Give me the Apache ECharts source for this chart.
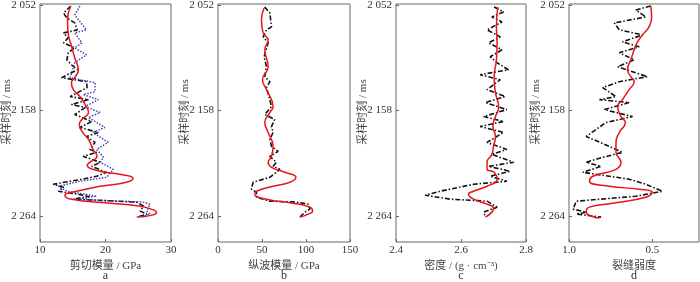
<!DOCTYPE html>
<html>
<head>
<meta charset="utf-8">
<script src="https://cdn.jsdelivr.net/npm/echarts@6/dist/echarts.min.js"></script>
<style>
  html, body { margin: 0; padding: 0; background: #fff; }
  #chart { width: 700px; height: 282px; }
</style>
</head>
<body>
<div id="chart"></div>
<script>
// y ticks (sampling time, ms)
const timeTicks = [2052, 2158, 2264];

// panel a - shear modulus (GPa)
const aBlackT = [2053, 2060, 2065, 2070, 2077, 2080, 2085, 2090, 2095, 2100, 2107, 2112, 2117, 2125, 2129, 2135, 2144, 2147, 2152, 2155, 2162, 2169, 2175, 2180, 2184, 2190, 2197, 2200, 2204, 2210, 2214, 2220, 2224, 2227, 2232, 2235, 2239, 2244, 2247, 2250, 2254, 2259, 2262, 2265];
const aBlackV = [14.7, 13.6, 14.1, 15.3, 15.7, 13.6, 14.3, 13.6, 15.3, 14.3, 14.1, 14.8, 15.7, 13.3, 17.1, 17.2, 14.6, 17.4, 14.8, 16.9, 15.3, 17.9, 16.1, 18.9, 17.1, 18.4, 17.6, 18.65, 16.6, 19.2, 17.9, 20.1, 18.65, 16.4, 12.0, 13.6, 12.8, 17.6, 15.1, 24.8, 25.8, 25.3, 26.3, 24.8];
const aBlueT = [2053, 2062, 2077, 2080, 2090, 2095, 2102, 2110, 2125, 2130, 2139, 2142, 2147, 2154, 2160, 2165, 2175, 2180, 2190, 2197, 2205, 2210, 2217, 2225, 2229, 2234, 2239, 2244, 2247, 2250, 2252, 2259, 2262, 2265];
const aBlueV = [16.1, 15.3, 17.1, 15.3, 16.4, 15.3, 17.1, 15.3, 14.6, 18.4, 18.4, 16.6, 18.9, 16.9, 19.2, 17.4, 19.9, 18.1, 20.4, 18.65, 19.7, 19.2, 21.2, 20.2, 16.1, 12.8, 14.1, 18.65, 15.7, 25.8, 26.8, 26.3, 26.8, 25.3];
const aRedT = [2053, 2067, 2080, 2093, 2105, 2117, 2125, 2130, 2137, 2144, 2152, 2160, 2167, 2172, 2179, 2187, 2197, 2204, 2210, 2213, 2219, 2222, 2226, 2230, 2234, 2239, 2243, 2247, 2251, 2254, 2258, 2260, 2263, 2265];
const aRedV = [14.7, 14.2, 14.3, 14.8, 15.3, 15.85, 15.3, 14.8, 15.1, 16.1, 16.9, 17.4, 16.4, 16.0, 16.4, 17.4, 18.1, 18.7, 17.6, 17.2, 19.2, 22.2, 24.2, 23.2, 19.2, 15.6, 13.8, 14.8, 20.7, 25.3, 27.4, 27.8, 27.1, 24.8];

// panel b - P-wave modulus (GPa)
const bBlackT = [2054, 2060, 2074, 2077, 2084, 2090, 2104, 2114, 2124, 2129, 2135, 2147, 2154, 2162, 2167, 2174, 2180, 2187, 2194, 2199, 2204, 2210, 2214, 2217, 2220, 2225, 2230, 2237, 2240, 2245, 2249, 2250, 2252, 2257, 2260, 2265];
const bBlackV = [53, 58.9, 60.8, 55.1, 51.3, 57, 52.4, 55.1, 53.2, 58.9, 55.1, 58.9, 60.8, 53.2, 64.4, 60.8, 62.6, 58.9, 60.8, 68.3, 58.9, 66.4, 62.6, 70.3, 66.4, 58.9, 39.9, 38, 43.7, 43.7, 58.9, 89.3, 102.5, 104.4, 98.7, 93];
const bRedT = [2055, 2067, 2080, 2087, 2097, 2114, 2127, 2137, 2154, 2160, 2170, 2180, 2194, 2204, 2210, 2215, 2220, 2225, 2230, 2234, 2239, 2242, 2247, 2251, 2255, 2259, 2262, 2265];
const bRedV = [52.4, 49.4, 51.3, 57, 53.2, 57, 50.6, 55.1, 62.6, 58.9, 53.2, 57, 62.6, 60.8, 57, 60.8, 76, 88.5, 81.7, 62.6, 43.7, 41.8, 55.1, 85.4, 104.4, 107.5, 102.5, 93];

// panel c - density (g/cm3)
const cBlackT = [2054, 2059, 2064, 2069, 2077, 2084, 2090, 2097, 2104, 2110, 2117, 2122, 2127, 2137, 2144, 2150, 2157, 2164, 2169, 2174, 2180, 2190, 2197, 2202, 2210, 2214, 2219, 2224, 2229, 2232, 2239, 2243, 2247, 2249, 2255, 2260, 2265];
const cBlackV = [2.702, 2.731, 2.695, 2.726, 2.680, 2.721, 2.685, 2.726, 2.690, 2.711, 2.746, 2.659, 2.721, 2.680, 2.736, 2.675, 2.741, 2.670, 2.731, 2.659, 2.731, 2.680, 2.741, 2.695, 2.762, 2.685, 2.751, 2.690, 2.741, 2.639, 2.536, 2.490, 2.567, 2.680, 2.711, 2.670, 2.675];
const cRedT = [2054, 2074, 2090, 2107, 2124, 2140, 2155, 2164, 2174, 2184, 2194, 2202, 2210, 2217, 2220, 2227, 2234, 2239, 2242, 2247, 2252, 2256, 2260, 2265];
const cRedV = [2.713, 2.709, 2.711, 2.709, 2.702, 2.706, 2.716, 2.706, 2.698, 2.706, 2.700, 2.695, 2.680, 2.680, 2.702, 2.711, 2.680, 2.639, 2.623, 2.639, 2.680, 2.700, 2.695, 2.675];

// panel d - fracture weakness
const dBlackT = [2053, 2057, 2064, 2070, 2077, 2082, 2089, 2094, 2100, 2107, 2114, 2124, 2129, 2135, 2144, 2147, 2150, 2157, 2164, 2170, 2184, 2194, 2200, 2205, 2210, 2214, 2220, 2227, 2232, 2239, 2244, 2249, 2257, 2260, 2262, 2265];
const dBlackV = [0.51, 0.599, 0.539, 0.728, 0.698, 0.559, 0.679, 0.579, 0.698, 0.609, 0.708, 0.530, 0.698, 0.798, 0.718, 0.817, 0.639, 0.788, 0.619, 0.778, 0.897, 0.758, 0.679, 0.798, 0.897, 0.808, 0.917, 0.639, 0.539, 0.440, 0.599, 0.956, 0.976, 0.897, 0.956, 0.807];
const dRedT = [2053, 2064, 2074, 2080, 2089, 2097, 2107, 2117, 2124, 2129, 2137, 2147, 2154, 2164, 2170, 2180, 2190, 2200, 2210, 2217, 2224, 2229, 2234, 2237, 2240, 2245, 2251, 2255, 2260, 2264, 2266];
const dRedV = [0.51, 0.504, 0.52, 0.549, 0.589, 0.609, 0.629, 0.649, 0.629, 0.609, 0.639, 0.679, 0.708, 0.688, 0.662, 0.698, 0.718, 0.718, 0.688, 0.718, 0.857, 0.877, 0.758, 0.579, 0.500, 0.539, 0.738, 0.877, 0.897, 0.867, 0.817];

const font = "'Liberation Serif', 'Noto Sans CJK SC', serif";
const axisColor = '#666';
const textColor = '#333';

const pairs = (vals, times) => vals.map((v, i) => [v, times[i]]);
const fmtTime = v => String(v).replace(/^(\d)(\d{3})$/, '$1 $2');

const panels = [
  { left: 40, width: 131, name: '剪切模量 / GPa', letter: 'a', min: 10, max: 30, interval: 10 },
  { left: 218, width: 132, name: '纵波模量 / GPa', letter: 'b', min: 0, max: 150, interval: 50 },
  { left: 396, width: 130, name: '密度 / (g · cm⁻³)', letter: 'c', min: 2.4, max: 2.8, interval: 0.2 },
  { left: 569, width: 130, name: '裂缝弱度', letter: 'd', min: 0.22, max: 1.0, inverse: true, custom: [1.0, 0.5] }
];

const grid = panels.map(p => ({
  left: p.left, top: 4, width: p.width, height: 238,
  outerBoundsMode: 'none', containLabel: false,
  show: true, borderColor: axisColor, borderWidth: 1, backgroundColor: 'transparent'
}));

const xAxis = panels.map((p, i) => {
  const ax = {
    type: 'value', gridIndex: i, min: p.min, max: p.max, inverse: !!p.inverse,
    splitLine: { show: false },
    axisLine: { show: false },
    axisTick: { show: true, inside: true, length: 3, lineStyle: { color: axisColor } },
    axisLabel: { color: textColor, fontFamily: font, fontSize: 11, margin: 3,
      formatter: v => p.custom ? v.toFixed(1) : String(+v.toFixed(2)) },
    name: p.name, nameLocation: 'middle', nameGap: 11,
    nameTextStyle: { color: '#444', fontFamily: font, fontSize: 11 }
  };
  if (p.custom) {
    ax.axisLabel.customValues = p.custom;
    ax.axisTick.customValues = p.custom;
  } else {
    ax.interval = p.interval;
  }
  return ax;
});

const yAxis = panels.map((p, i) => ({
  type: 'value', gridIndex: i, min: 2051, max: 2290, inverse: true,
  splitLine: { show: false },
  axisLine: { show: false },
  axisTick: { show: true, inside: true, length: 3, customValues: timeTicks, lineStyle: { color: axisColor } },
  axisLabel: { color: textColor, fontFamily: font, fontSize: 11, margin: 4,
    customValues: timeTicks, formatter: fmtTime }
}));

const black = (i, vals, times) => ({
  type: 'line', xAxisIndex: i, yAxisIndex: i, data: pairs(vals, times),
  showSymbol: false, lineStyle: { color: '#111', width: 1.6, type: [5, 2, 1.5, 2] }, z: 2
});
const red = (i, vals, times) => ({
  type: 'line', xAxisIndex: i, yAxisIndex: i, data: pairs(vals, times),
  showSymbol: false, smooth: 0.5, lineStyle: { color: '#e8141c', width: 1.5 }, z: 4
});

const series = [
  black(0, aBlackV, aBlackT),
  { type: 'line', xAxisIndex: 0, yAxisIndex: 0, data: pairs(aBlueV, aBlueT), showSymbol: false,
    lineStyle: { color: '#3c3cb4', width: 1.4, type: [1.5, 1.5] }, z: 3 },
  red(0, aRedV, aRedT),
  black(1, bBlackV, bBlackT),
  red(1, bRedV, bRedT),
  black(2, cBlackV, cBlackT),
  red(2, cRedV, cRedT),
  black(3, dBlackV, dBlackT),
  red(3, dRedV, dRedT)
];

const graphic = [];
panels.forEach(p => {
  graphic.push({
    type: 'text', x: p.left - 33, y: 112, rotation: Math.PI / 2,
    style: { text: '采样时刻 / ms', fill: '#444', font: '11px ' + font, textAlign: 'center', textVerticalAlign: 'middle' }
  });
  graphic.push({
    type: 'text', x: p.left + p.width / 2, y: 276,
    style: { text: p.letter, fill: '#333', font: '12px ' + font, textAlign: 'center', textVerticalAlign: 'middle' }
  });
});

const chart = echarts.init(document.getElementById('chart'));
chart.setOption({
  animation: false,
  backgroundColor: '#fff',
  grid, xAxis, yAxis, series, graphic
});
</script>
</body>
</html>
